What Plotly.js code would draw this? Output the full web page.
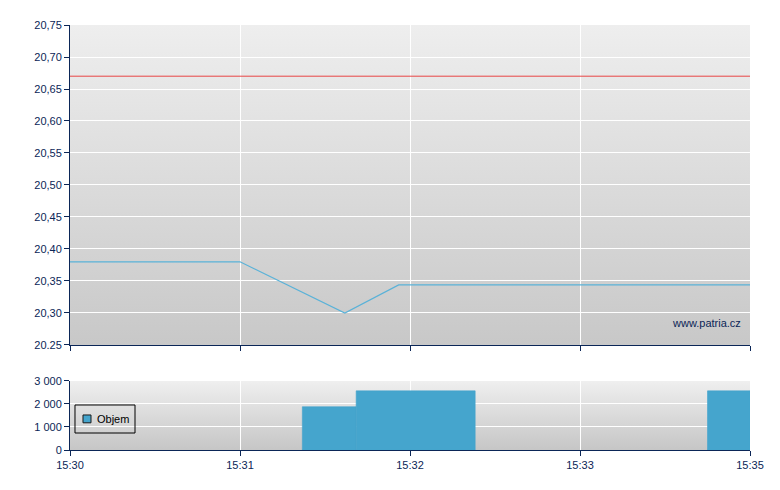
<!DOCTYPE html>
<html>
<head>
<meta charset="utf-8">
<script src="https://cdn.plot.ly/plotly-3.0.1.min.js"></script>
<style>html,body{margin:0;padding:0;background:#fff;}#chart{width:780px;height:490px;}</style>
</head>
<body>
<div id="chart"></div>
<script>
// ---- data ----
var DAY = '2024-01-01 ';
var priceTimes = ['15:30:00', '15:31:00', '15:31:37', '15:31:56', '15:34:00'];
var priceValues = [20.38, 20.38, 20.30, 20.344, 20.344];
var refTimes = ['15:30:00', '15:34:00'];
var refValues = [20.67, 20.67];
var volStart = ['15:31:22', '15:31:41', '15:33:45'];
var volEnd = ['15:31:41', '15:32:23', '15:34:00'];
var volValues = [1880, 2570, 2570];
var xTickTimes = ['15:30:00', '15:31:00', '15:32:00', '15:33:00', '15:34:00'];
var xTickLabels = ['15:30', '15:31', '15:32', '15:33', '15:35'];
var yTickValues = [20.25, 20.30, 20.35, 20.40, 20.45, 20.50, 20.55, 20.60, 20.65, 20.70, 20.75];
var yTickLabels = ['20.25', '20,30', '20,35', '20,40', '20,45', '20,50', '20,55', '20,60', '20,65', '20,70', '20,75'];
var volTickValues = [0, 1000, 2000, 3000];
var volTickLabels = ['0', '1 000', '2 000', '3 000'];
var legendName = 'Objem';
var watermark = 'www.patria.cz';

// ---- build ----
function t(s) { return new Date(DAY.replace(' ', 'T') + s).getTime(); }
var navy = '#0b2657';
var barColor = '#45a5cd';
var volCenters = [], volWidths = [];
for (var i = 0; i < volValues.length; i++) {
  var a = t(volStart[i]), b = t(volEnd[i]);
  volCenters.push(a + (b - a) / 2);
  volWidths.push(b - a);
}
function grad(top, bottom) {
  var svg = "<svg xmlns='http://www.w3.org/2000/svg' width='10' height='100' preserveAspectRatio='none'>" +
    "<defs><linearGradient id='g' x1='0' y1='0' x2='0' y2='1'>" +
    "<stop offset='0' stop-color='" + top + "'/><stop offset='1' stop-color='" + bottom + "'/>" +
    "</linearGradient></defs><rect width='10' height='100' fill='url(#g)'/></svg>";
  return 'data:image/svg+xml;charset=utf-8,' + encodeURIComponent(svg);
}

var traces = [
  {
    type: 'scatter', mode: 'lines', x: refTimes.map(t), y: refValues,
    line: { color: '#e84545', width: 1 }, showlegend: false,
    xaxis: 'x', yaxis: 'y'
  },
  {
    type: 'scatter', mode: 'lines', x: priceTimes.map(t), y: priceValues,
    line: { color: '#5ab2d8', width: 1.3 }, showlegend: false,
    xaxis: 'x', yaxis: 'y'
  },
  {
    type: 'bar', x: volCenters, y: volValues, width: volWidths, name: legendName,
    marker: { color: barColor, line: { color: barColor, width: 0.6 } }, showlegend: false,
    xaxis: 'x2', yaxis: 'y2'
  }
];

var font = { family: 'Liberation Sans, Arial, sans-serif', size: 11, color: navy };
var xCommon = {
  type: 'date', range: [t(xTickTimes[0]), t(xTickTimes[xTickTimes.length - 1])],
  tickmode: 'array', tickvals: xTickTimes.map(t), ticktext: xTickLabels,
  showgrid: true, gridcolor: '#ffffff', gridwidth: 1,
  showline: true, linecolor: navy, linewidth: 1,
  ticks: 'outside', ticklen: 5, tickcolor: navy, tickwidth: 1,
  zeroline: false, tickfont: font, fixedrange: true
};
// manual legend box (paper coordinates)
var legendBox = { x0: 0.00735, x1: 0.0956, y0: 0.04, y1: 0.1059 };
var layout = {
  width: 780, height: 490,
  margin: { l: 70, r: 30, t: 25, b: 40, pad: 0 },
  paper_bgcolor: '#ffffff', plot_bgcolor: 'rgba(0,0,0,0)',
  font: font,
  showlegend: false,
  xaxis: Object.assign({}, xCommon, { domain: [0, 1], anchor: 'y', showticklabels: false }),
  xaxis2: Object.assign({}, xCommon, { domain: [0, 1], anchor: 'y2', matches: 'x', showticklabels: true }),
  yaxis: {
    domain: [0.2471, 1], anchor: 'x', range: [20.25, 20.75],
    tickmode: 'array', tickvals: yTickValues, ticktext: yTickLabels,
    showgrid: true, gridcolor: '#ffffff', gridwidth: 1,
    showline: true, linecolor: navy, linewidth: 1,
    ticks: 'outside', ticklen: 5, tickcolor: navy, tickwidth: 1,
    zeroline: false, tickfont: font, fixedrange: true
  },
  yaxis2: {
    domain: [0, 0.1624], anchor: 'x2', range: [0, 3000],
    tickmode: 'array', tickvals: volTickValues, ticktext: volTickLabels,
    showgrid: true, gridcolor: '#ffffff', gridwidth: 1,
    showline: true, linecolor: navy, linewidth: 1,
    ticks: 'outside', ticklen: 5, tickcolor: navy, tickwidth: 1,
    zeroline: false, tickfont: font, fixedrange: true
  },
  images: [
    { source: grad('#eeeeee', '#c8c8c8'), xref: 'x domain', yref: 'y domain', x: 0, y: 1,
      sizex: 1, sizey: 1, sizing: 'stretch', xanchor: 'left', yanchor: 'top', layer: 'below' },
    { source: grad('#efefef', '#c6c6c6'), xref: 'x2 domain', yref: 'y2 domain', x: 0, y: 1,
      sizex: 1, sizey: 1, sizing: 'stretch', xanchor: 'left', yanchor: 'top', layer: 'below' }
  ],
  shapes: [
    { type: 'rect', xref: 'paper', yref: 'paper', x0: legendBox.x0, x1: legendBox.x1,
      y0: legendBox.y0, y1: legendBox.y1, line: { color: '#000000', width: 1 }, fillcolor: 'rgba(0,0,0,0)' },
    { type: 'rect', xref: 'paper', yref: 'paper', x0: 0.0191, x1: 0.0309,
      y0: 0.064, y1: 0.0824, line: { color: '#1a1a1a', width: 1 }, fillcolor: barColor }
  ],
  annotations: [
    { text: watermark, xref: 'paper', yref: 'paper', x: 0.9897, y: 0.2988,
      xanchor: 'right', yanchor: 'middle', showarrow: false,
      font: { family: 'Liberation Sans, Arial, sans-serif', size: 11, color: navy } },
    { text: legendName, xref: 'paper', yref: 'paper', x: 0.0368, y: 0.0729,
      xanchor: 'left', yanchor: 'middle', showarrow: false,
      font: { family: 'Liberation Sans, Arial, sans-serif', size: 11, color: '#000000' } }
  ],
  hovermode: false
};
Plotly.newPlot('chart', traces, layout, { displayModeBar: false, staticPlot: true });
</script>
</body>
</html>
